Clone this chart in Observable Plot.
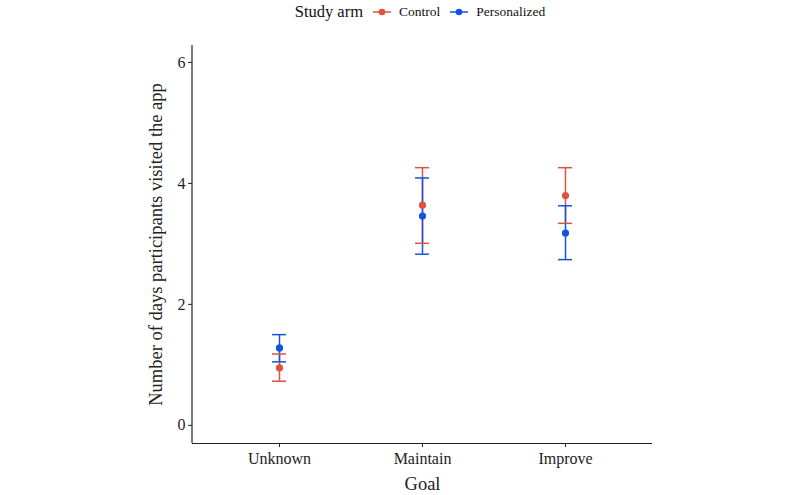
<!DOCTYPE html>
<html>
<head>
<meta charset="utf-8">
<script src="https://cdn.jsdelivr.net/npm/d3@7"></script>
<script src="https://cdn.jsdelivr.net/npm/@observablehq/plot@0.6"></script>
<style>
  body { margin: 0; background: #fff; font-family: "Liberation Serif", serif; }
  #legend { width: 800px; height: 24px; box-sizing: border-box; padding-left: 50px; display: flex; justify-content: center; align-items: center; color: #111; }
  #legend .title { font-size: 16.5px; margin-right: 10px; }
  #legend .item { font-size: 13.5px; display: flex; align-items: center; margin-right: 10px; }
  #legend svg { margin-right: 8px; }
</style>
</head>
<body>
<div id="legend"></div>
<div id="chart"></div>
<script>
const goals = ["Unknown", "Maintain", "Improve"];
const arms = ["Control", "Personalized"];
const armColors = ["#e0513e", "#1452df"];
const controlMean = [0.95, 3.64, 3.80];
const controlLow = [0.73, 3.01, 3.34];
const controlHigh = [1.18, 4.26, 4.26];
const persMean = [1.28, 3.46, 3.18];
const persLow = [1.05, 2.83, 2.74];
const persHigh = [1.50, 4.09, 3.63];
const yTicks = [0, 2, 4, 6];

const rows = [];
goals.forEach((g, i) => {
  rows.push({goal: g, arm: "Control", mean: controlMean[i], low: controlLow[i], high: controlHigh[i]});
});
goals.forEach((g, i) => {
  rows.push({goal: g, arm: "Personalized", mean: persMean[i], low: persLow[i], high: persHigh[i]});
});

const plot = Plot.plot({
  width: 800,
  height: 471,
  marginTop: 21,
  marginBottom: 52,
  marginLeft: 192,
  marginRight: 148,
  style: {fontFamily: "Liberation Serif, serif", fontSize: "16px", color: "#222", background: "#fff"},
  x: {type: "band", domain: goals, paddingInner: 0.902, paddingOuter: 0.554, label: null},
  y: {domain: [-0.3, 6.28], label: null},
  color: {domain: arms, range: armColors},
  marks: [
    Plot.ruleX(rows, {x: "goal", y1: "low", y2: "high", stroke: "arm", strokeWidth: 1.5}),
    Plot.tickY(rows, {x: "goal", y: "low", stroke: "arm", strokeWidth: 1.5}),
    Plot.tickY(rows, {x: "goal", y: "high", stroke: "arm", strokeWidth: 1.5}),
    Plot.dot(rows, {x: "goal", y: "mean", fill: "arm", r: 3.6}),
    Plot.axisY({ticks: yTicks, tickFormat: d3.format("d"), tickSize: 4, tickPadding: 3, fontSize: 16, stroke: "#222", label: null}),
    Plot.axisX({tickSize: 4, tickPadding: 5, fontSize: 16, stroke: "#222", label: null}),
    Plot.ruleY([-0.3], {stroke: "#222", strokeWidth: 1.2}),
    Plot.axisY({ticks: [], tickSize: 0, label: "Number of days participants visited the app", labelAnchor: "center", labelArrow: "none", labelOffset: 44, fontSize: 18.5}),
    Plot.axisX({ticks: [], tickSize: 0, label: "Goal", labelAnchor: "center", labelArrow: "none", labelOffset: 46, fontSize: 18.5})
  ]
});
document.getElementById("chart").appendChild(plot);

// y-axis line
const svg = d3.select(plot);
const yScale = plot.scale("y");
svg.append("line")
  .attr("x1", 192).attr("x2", 192)
  .attr("y1", yScale.apply(6.28)).attr("y2", yScale.apply(-0.3))
  .attr("stroke", "#222").attr("stroke-width", 1.2);

// legend
const legend = d3.select("#legend");
legend.append("span").attr("class", "title").text("Study arm");
arms.forEach((a, i) => {
  const it = legend.append("span").attr("class", "item");
  const s = it.append("svg").attr("width", 18).attr("height", 12);
  s.append("line").attr("x1", 0).attr("x2", 18).attr("y1", 6).attr("y2", 6).attr("stroke", armColors[i]).attr("stroke-width", 1.5);
  s.append("circle").attr("cx", 9).attr("cy", 6).attr("r", 3.3).attr("fill", armColors[i]);
  it.append("span").text(a);
});
</script>
</body>
</html>
